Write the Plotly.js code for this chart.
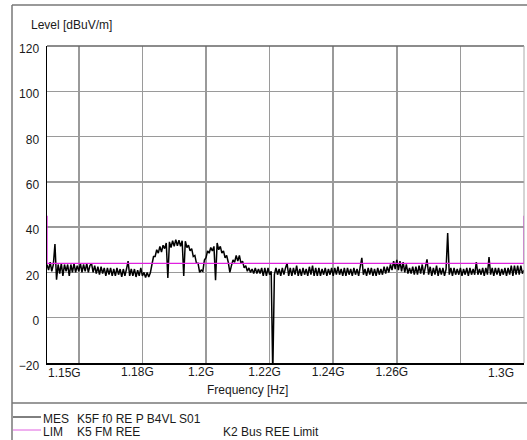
<!DOCTYPE html>
<html>
<head>
<meta charset="utf-8">
<script src="https://cdn.plot.ly/plotly-3.0.1.min.js"></script>
<style>html,body{margin:0;padding:0;background:#fff;}#chart{width:527px;height:440px;}</style>
</head>
<body>
<div id="chart"></div>
<script>
const sweepStartMHz = 1150.0;
const sweepStepMHz = 0.5;
const mesLevels = [
  23.5, 21, 24.5, 20.5, 23.5, 32.5, 16.8, 23.5, 19.5, 24,
  18.5, 23.5, 20.5, 23.5, 18.5, 23.5, 20, 24, 20, 23,
  20.5, 24, 20, 23.5, 20.5, 24, 20, 23, 24, 20,
  23, 19.5, 22.5, 19, 22.5, 19.5, 22, 18.5, 22, 19,
  22, 18.5, 21.5, 18.5, 22, 19, 21.5, 18, 21.5, 18.5,
  21.5, 25, 18.5, 21.5, 18.5, 21.5, 18, 21, 18.5, 22,
  18.5, 20, 17.8, 20, 18, 19.8, 23.5, 27, 27, 30,
  28.5, 31.5, 29, 32, 30.5, 33, 17.5, 33.5, 31, 34,
  31.5, 34.5, 31.8, 34.2, 31.5, 34, 18.4, 33.8, 31, 32,
  29.5, 30.5, 27, 27.5, 24, 24, 20, 21, 20.5, 25.5,
  26.5, 29.5, 28.5, 31, 29.5, 31.5, 16.6, 33, 30, 31.5,
  28.5, 29.5, 26.5, 27.5, 24.5, 20, 23, 25.5, 24.5, 27.5,
  25, 27.5, 24, 25, 22, 23, 20.5, 22, 20, 21.5,
  19.5, 22, 19.5, 21.5, 19.5, 22, 18.5, 22, 18.5, 22,
  19, 20.5, -25, 19, 22, 19, 21.5, 18.5, 22, 19,
  22, 24, 18.5, 22, 18.5, 22, 19, 23, 18.5, 21.5,
  18.5, 22, 19, 21.5, 18.5, 22.5, 19, 23, 18.5, 22,
  18.5, 22, 18.5, 21.5, 19, 22, 18.5, 21.5, 19, 22,
  18.5, 22, 19, 22.5, 19, 21.5, 18.5, 22, 18.5, 22,
  19, 21.5, 18.5, 22, 19, 21.5, 18.5, 22, 26.4, 19,
  21.5, 18.5, 22, 19, 22, 18.5, 21.5, 18.5, 22, 19,
  21.5, 19, 22.5, 19.5, 22.5, 20, 23.5, 21, 25, 21.5,
  25.5, 21, 25, 20.5, 24.5, 20, 23.5, 19.5, 22, 19.5,
  22.5, 19, 22.5, 19, 23, 19.5, 23.5, 19, 22, 25.8,
  19, 22.5, 18.5, 22, 19, 23, 18.5, 22, 19, 22,
  18.5, 21.5, 37.4, 19, 22, 18.5, 22, 19, 21.5, 19,
  22, 18.5, 21.5, 19, 22, 18.5, 22, 19, 21.5, 19,
  24.6, 19, 21.5, 19, 22, 18.5, 22, 19, 26.8, 19,
  22, 18.5, 22, 19, 22, 18.5, 21.5, 19, 22, 18.5,
  22, 19, 23, 18.5, 23, 19, 23, 19, 23, 19.5,
  21
];
// Limit line (step at band edges)
const limFreqMHz = [1150, 1150, 1300, 1300];
const limLevels = [45, 24, 24, 45];

// Axis ticks
const xGridMHz = [1160, 1180, 1200, 1220, 1240, 1260, 1280];
const xGridLabels = ["", "1.18G", "1.2G", "1.22G", "1.24G", "1.26G", ""];
const xEndLabels = ["1.15G", "1.3G"];
const yTicks = [-20, 0, 20, 40, 60, 80, 100, 120];

// Legend texts
const legendNames = ["MES", "LIM"];
const legendDescr = ["K5F f0 RE P B4VL S01", "K5 FM REE"];
const legendExtra = ["", "K2 Bus REE Limit"];

const mesFreq = mesLevels.map((_, i) => sweepStartMHz + i * sweepStepMHz);

const W = 527, H = 440, L = 47, R = 524, T = 46, B = 363;
const px = x => (x - L) / (R - L);
const py = y => (B - y) / (B - T);

const font = {family: "Liberation Sans, Arial, sans-serif", size: 12, color: "#1a1a1a"};

const traces = [
  {x: mesFreq, y: mesLevels, type: "scatter", mode: "lines",
   line: {color: "#000000", width: 1.5}, hoverinfo: "skip"},
  {x: limFreqMHz, y: limLevels, type: "scatter", mode: "lines",
   line: {color: "#e020e0", width: 1.3}, hoverinfo: "skip"}
];

const shapes = [
  // outer frame
  {type: "line", xref: "paper", yref: "paper", x0: px(12), x1: px(12), y0: py(5), y1: py(440), line: {color: "#777", width: 1.5}},
  {type: "line", xref: "paper", yref: "paper", x0: px(12), x1: px(527), y0: py(5), y1: py(5), line: {color: "#777", width: 1.5}},
  // separator above legend
  {type: "line", xref: "paper", yref: "paper", x0: px(12), x1: px(527), y0: py(403), y1: py(403), line: {color: "#777", width: 1.5}},
  // plot top and right frame
  {type: "line", xref: "paper", yref: "paper", x0: 0, x1: 1, y0: 1, y1: 1, line: {color: "#666", width: 1.5}},
  {type: "line", xref: "paper", yref: "paper", x0: 1, x1: 1, y0: 0, y1: 1, line: {color: "#aaa", width: 1}},
  // legend line samples
  {type: "line", xref: "paper", yref: "paper", x0: px(13), x1: px(41), y0: py(417), y1: py(417), line: {color: "#000", width: 1}},
  {type: "line", xref: "paper", yref: "paper", x0: px(13), x1: px(41), y0: py(430), y1: py(430), line: {color: "#e060e0", width: 1}}
];

const annotations = [
  {text: "Level [dBuV/m]", xref: "paper", yref: "paper", x: px(29), y: py(25), xanchor: "left", yanchor: "middle", showarrow: false, font: font},
  {text: "Frequency [Hz]", xref: "paper", yref: "paper", x: px(247), y: py(390), xanchor: "center", yanchor: "middle", showarrow: false, font: font},
  {text: xEndLabels[0], xref: "paper", yref: "paper", x: px(46), y: py(373), xanchor: "left", yanchor: "middle", showarrow: false, font: font},
  {text: xEndLabels[1], xref: "paper", yref: "paper", x: px(516), y: py(373), xanchor: "right", yanchor: "middle", showarrow: false, font: font}
];
const legY = [419, 432];
legendNames.forEach((n, i) => {
  annotations.push({text: n, xref: "paper", yref: "paper", x: px(41), y: py(legY[i]), xanchor: "left", yanchor: "middle", showarrow: false, font: font});
  annotations.push({text: legendDescr[i], xref: "paper", yref: "paper", x: px(75), y: py(legY[i]), xanchor: "left", yanchor: "middle", showarrow: false, font: font});
  if (legendExtra[i]) annotations.push({text: legendExtra[i], xref: "paper", yref: "paper", x: px(221), y: py(legY[i]), xanchor: "left", yanchor: "middle", showarrow: false, font: font});
});

const layout = {
  width: W, height: H,
  margin: {l: L, r: W - R, t: T, b: H - B, pad: 0},
  paper_bgcolor: "#ffffff", plot_bgcolor: "#ffffff",
  showlegend: false,
  font: font,
  xaxis: {
    type: "linear", range: [1150, 1300], fixedrange: true,
    tickmode: "array", tickvals: xGridMHz, ticktext: xGridLabels,
    ticks: "", showgrid: true, gridcolor: "#9a9a9a", gridwidth: 1.5,
    showline: true, linecolor: "#000", linewidth: 1.5, zeroline: false,
    ticklabelshift: -5, ticklabelstandoff: -3, tickfont: font
  },
  yaxis: {
    range: [-20, 120], fixedrange: true,
    tickmode: "array", tickvals: yTicks,
    ticks: "", showgrid: true, gridcolor: "#9a9a9a", gridwidth: 1.5,
    showline: true, linecolor: "#000", linewidth: 1.5, zeroline: false,
    ticklabelshift: 3, ticklabelstandoff: 4, tickfont: font
  },
  shapes: shapes,
  annotations: annotations
};

Plotly.newPlot("chart", traces, layout, {displayModeBar: false, staticPlot: true});
</script>
</body>
</html>
